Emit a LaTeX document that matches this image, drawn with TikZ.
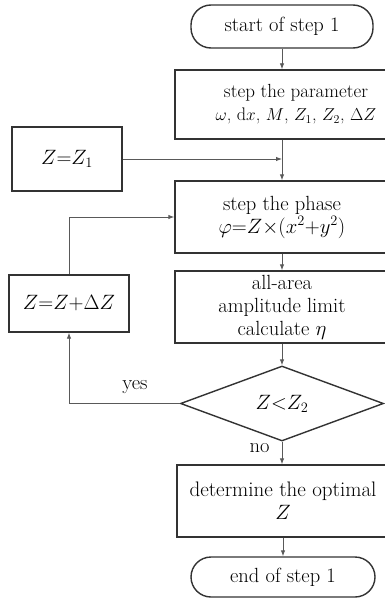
\documentclass[tikz,border=0pt]{standalone}
\usetikzlibrary{arrows.meta,shapes.geometric}
\begin{document}
\begin{tikzpicture}[x=1pt,y=-1pt,
  every node/.style={font=\fontsize{20.5}{23}\selectfont, text=black},
  box/.style={draw=black!80, line width=1.4pt, inner sep=0pt, align=center},
  term/.style={box, rounded corners=20pt},
  dia/.style={draw=black!80, line width=1.4pt, shape=diamond, inner sep=0pt},
  txt/.style={align=center, inner sep=0pt},
  conn/.style={draw=black!65, line width=0.9pt, -{Latex[length=6pt,width=4.5pt]}}]
\useasboundingbox (0,0) rectangle (385,599);
\clip (0,0) rectangle (385,599);
\fill[white] (0,0) rectangle (385,599);
\node[term, minimum width=182, minimum height=43] (start) at (282,26.5) {start of step 1};
\node[box, minimum width=214, minimum height=69] (par) at (282,104.5) {};
\node[txt, font=\fontsize{19}{23}\selectfont] (partxt) at (296,104.5) {step the parameter\\{\fontsize{18.2}{23}\selectfont$\omega$, d$x$, $M$, $Z_1$, $Z_2$, $\Delta Z$}};
\node[box, minimum width=110, minimum height=64] (z1) at (67,159) {$Z{=}Z_1$};
\node[box, minimum width=214, minimum height=72] (phase) at (282,217) {step the phase\\$\varphi{=}Z{\times}(x^2{+}y^2)$};
\node[box, minimum width=120, minimum height=57] (inc) at (69,303.5) {$Z{=}Z{+}\Delta Z$};
\node[box, minimum width=214, minimum height=72] (amp) at (282,307) {all-area\\amplitude limit\\calculate $\eta$};
\node[dia, minimum width=203, minimum height=75] (cmp) at (282,403.5) {$Z{<}Z_2$};
\node[box, minimum width=212, minimum height=72, font=\fontsize{21}{23}\selectfont] (opt) at (283,501) {determine the optimal\\$Z$};
\node[term, minimum width=184, minimum height=40] (end) at (283,577) {end of step 1};
\coordinate (j) at (par.south |- z1.east);
\draw[conn] (start) -- (par);
\draw[conn] (z1.east) -- (j);
\draw[conn] (par) -- (phase);
\draw[conn] (inc.north) |- (phase.west);
\draw[conn] (phase) -- (amp);
\draw[conn] (amp) -- (cmp);
\draw[conn] (cmp.west) -| (inc.south);
\draw[conn] (cmp.south) -- (cmp.south |- opt.north);
\draw[conn] (opt) -- (end);
\node[txt] (yes) at (135,387) {yes};
\node[txt] (no) at (259.5,448) {no};
\end{tikzpicture}
\end{document}
